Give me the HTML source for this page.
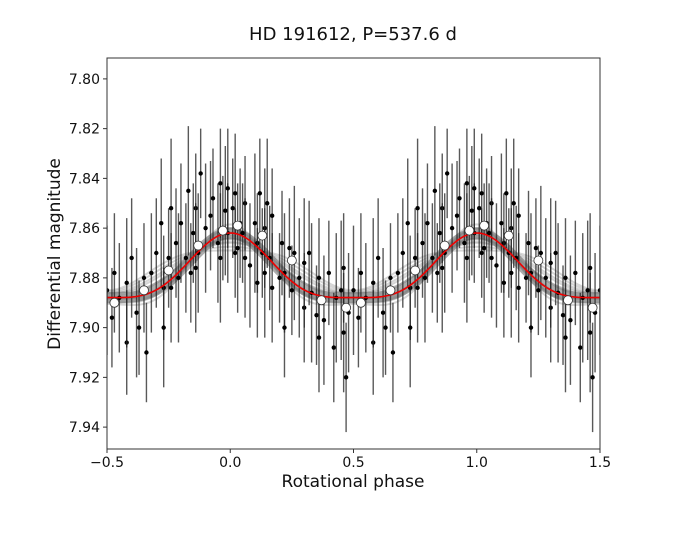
<!DOCTYPE html>
<html><head><meta charset="utf-8"><style>
body{margin:0;background:#fff;width:675px;height:542px;overflow:hidden}
svg{font-family:"DejaVu Sans","Liberation Sans",sans-serif}
</style></head><body>
<svg id="chart" width="675" height="542">
<text x="353" y="40" font-size="18" text-anchor="middle" fill="#111">HD 191612, P=537.6 d</text>
<text x="353" y="487" font-size="17" text-anchor="middle" fill="#111">Rotational phase</text>
<text transform="translate(60,254) rotate(-90)" font-size="17" text-anchor="middle" fill="#111">Differential magnitude</text>
<defs><clipPath id="pc"><rect x="107" y="58" width="493" height="391"/></clipPath></defs>
<g id="plot" clip-path="url(#pc)"></g>
<rect x="107" y="58" width="493" height="391" fill="none" stroke="#333" stroke-width="1"/>
<g id="axes"></g>
</svg>
<script>
const xTicks=[-0.5,0.0,0.5,1.0,1.5];
const xTickLabels=["\u22120.5","0.0","0.5","1.0","1.5"];
const yTicks=[7.80,7.82,7.84,7.86,7.88,7.90,7.92,7.94];
const yTickLabels=["7.80","7.82","7.84","7.86","7.88","7.90","7.92","7.94"];
const phase=[0.01,0.02,0.02,0.03,0.04,0.05,0.06,0.06,0.08,0.10,0.11,0.11,0.12,0.13,0.14,0.14,0.15,0.16,0.17,0.17,0.20,0.21,0.22,0.22,0.24,0.25,0.26,0.28,0.30,0.30,0.32,0.33,0.35,0.36,0.36,0.38,0.40,0.42,0.43,0.45,0.46,0.46,0.47,0.48,0.50,0.52,0.53,0.55,0.58,0.58,0.60,0.62,0.63,0.65,0.66,0.68,0.70,0.72,0.73,0.73,0.75,0.76,0.76,0.78,0.79,0.80,0.82,0.83,0.84,0.85,0.86,0.86,0.87,0.88,0.90,0.92,0.93,0.95,0.96,0.96,0.97,0.98,0.99,0.99];
const mag=[7.852,7.846,7.870,7.868,7.858,7.862,7.850,7.872,7.875,7.858,7.866,7.882,7.846,7.870,7.860,7.878,7.850,7.872,7.855,7.884,7.880,7.866,7.878,7.900,7.868,7.885,7.870,7.880,7.892,7.874,7.870,7.886,7.895,7.880,7.904,7.897,7.878,7.908,7.888,7.885,7.902,7.876,7.920,7.894,7.885,7.896,7.878,7.888,7.906,7.882,7.872,7.894,7.900,7.880,7.910,7.878,7.870,7.858,7.884,7.900,7.872,7.852,7.884,7.866,7.880,7.858,7.872,7.845,7.878,7.862,7.852,7.876,7.870,7.838,7.860,7.855,7.848,7.866,7.842,7.872,7.860,7.853,7.862,7.844];
const err=[0.020,0.024,0.018,0.026,0.022,0.020,0.019,0.024,0.025,0.028,0.020,0.022,0.022,0.018,0.024,0.026,0.026,0.021,0.019,0.022,0.018,0.021,0.024,0.020,0.020,0.018,0.027,0.024,0.022,0.026,0.021,0.028,0.020,0.024,0.022,0.026,0.021,0.022,0.026,0.028,0.024,0.022,0.022,0.024,0.026,0.020,0.024,0.022,0.021,0.026,0.024,0.026,0.019,0.022,0.020,0.024,0.022,0.026,0.021,0.024,0.020,0.028,0.022,0.022,0.026,0.024,0.022,0.026,0.020,0.020,0.022,0.026,0.024,0.018,0.026,0.022,0.020,0.024,0.022,0.026,0.021,0.026,0.020,0.024];
const binPhase=[0.03,0.13,0.25,0.37,0.47,0.53,0.65,0.75,0.87,0.97];
const binMag=[7.859,7.863,7.873,7.889,7.892,7.890,7.885,7.877,7.867,7.861];
const modelMean=7.8782, modelAmp=0.013, modelHarm=-0.00325;
const xMin=-0.5,xMax=1.5,yMin=7.7916,yMax=7.9488;
const L=107,R=600,T=58,B=449;
const sx=v=>L+(v-xMin)/(xMax-xMin)*(R-L);
const sy=v=>T+(v-yMin)/(yMax-yMin)*(B-T);
const NS="http://www.w3.org/2000/svg";
function mk(t,a,p){const e=document.createElementNS(NS,t);for(const k in a)e.setAttribute(k,a[k]);p.appendChild(e);return e;}
const plot=document.getElementById('plot'),axes=document.getElementById('axes');
function model(p,amp,harm,mean){const th=2*Math.PI*p;return mean-amp*Math.cos(th)+harm*Math.cos(2*th);}
function curvePath(amp,harm,mean){let d="";for(let i=0;i<=200;i++){const p=xMin+(xMax-xMin)*i/200;d+=(i?"L":"M")+sx(p).toFixed(1)+","+sy(model(p,amp,harm,mean)).toFixed(1);}return d;}
const sampAmp=[0.013,0.011,0.015,0.012,0.014,0.010,0.0135,0.0125,0.009,0.016,0.0115,0.0145,0.008,0.0105];
const sampHarm=[-0.0033,-0.002,-0.004,-0.001,-0.0045,0.000,-0.003,-0.0035,0.001,-0.005,-0.0015,-0.0038,0.002,-0.0005];
const sampMean=[7.878,7.877,7.879,7.8775,7.8785,7.876,7.8782,7.879,7.8755,7.8795,7.8772,7.8788,7.875,7.8765];
const samples=mk('g',{},plot);


mk('path',{d:curvePath(modelAmp,modelHarm,modelMean),fill:'none',stroke:'#777','stroke-width':11,'stroke-opacity':0.6},samples);
for(let i=0;i<sampAmp.length;i++){mk('path',{d:curvePath(sampAmp[i],sampHarm[i],sampMean[i]),fill:'none',stroke:'#777','stroke-width':2,'stroke-opacity':0.3},samples);}
const pts=mk('g',{},plot);


for(let i=0;i<phase.length;i++){for(const off of [-1,0,1]){const p=phase[i]+off;if(p<xMin-0.01||p>xMax+0.01)continue;const x=sx(p);
const ln=mk('line',{x1:x,x2:x,y1:sy(mag[i]-err[i]),y2:sy(mag[i]+err[i]),stroke:'#222','stroke-width':1.4,'stroke-opacity':0.75},pts);

const c=mk('circle',{cx:x,cy:sy(mag[i]),r:2.2,fill:'#000'},pts);
}}
const m=mk('path',{d:curvePath(modelAmp,modelHarm,modelMean),fill:'none',stroke:'#e00','stroke-width':1.6},plot);


for(let i=0;i<binPhase.length;i++){for(const off of [-1,0,1]){const p=binPhase[i]+off;if(p<xMin||p>xMax)continue;
const c=mk('circle',{cx:sx(p),cy:sy(binMag[i]),r:4.5,fill:'#fff',stroke:'#333','stroke-width':0.8},plot);
}}
xTicks.forEach((v,i)=>{const x=sx(v);mk('line',{x1:x,x2:x,y1:B,y2:B+4,stroke:'#333'},axes);
const t=mk('text',{x:x,y:B+18,'font-size':14,'text-anchor':'middle',fill:'#111'},axes);t.textContent=xTickLabels[i];
});
yTicks.forEach((v,i)=>{const y=sy(v);mk('line',{x1:L-4,x2:L,y1:y,y2:y,stroke:'#333'},axes);
const t=mk('text',{x:L-7,y:y+5,'font-size':14,'text-anchor':'end',fill:'#111'},axes);t.textContent=yTickLabels[i];
});
</script>
</body></html>
